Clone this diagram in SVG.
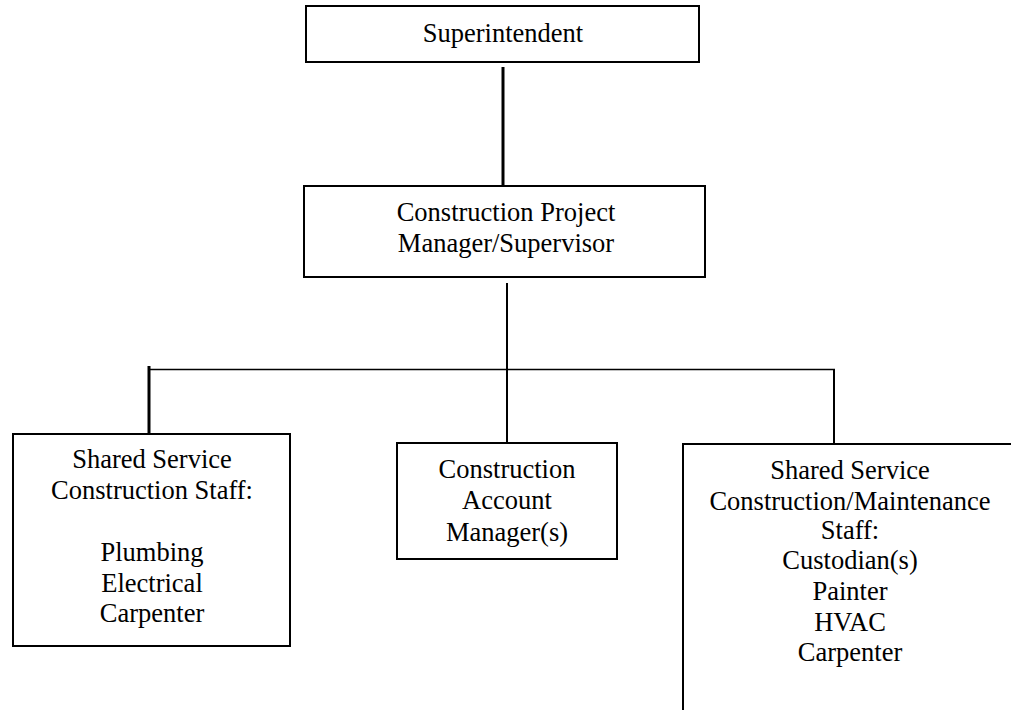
<svg xmlns="http://www.w3.org/2000/svg" width="1011" height="710" viewBox="0 0 1011 710">
<style>
.box{fill:#fff;stroke:#000;stroke-width:2}
.t{font-family:"Liberation Serif","Times New Roman",serif;font-size:26.5px;fill:#000;text-anchor:middle}
.c{stroke:#000;fill:none}
</style>
<rect width="1011" height="710" fill="#fff"/>
<g id="connectors">
<line class="c" x1="503" y1="67" x2="503" y2="186" stroke-width="3"/>
<line class="c" x1="507" y1="283" x2="507" y2="443" stroke-width="2"/>
<line class="c" x1="148" y1="369.5" x2="835" y2="369.5" stroke-width="1.6"/>
<line class="c" x1="149" y1="366" x2="149" y2="434" stroke-width="3"/>
<line class="c" x1="834" y1="369" x2="834" y2="444" stroke-width="2"/>
</g>
<g id="superintendent">
<rect class="box" x="306" y="6" width="393" height="56"/>
<text class="t" x="503" y="42">Superintendent</text>
</g>
<g id="project-manager">
<rect class="box" x="304" y="186" width="401" height="91"/>
<text class="t" x="506" y="221">Construction Project</text>
<text class="t" x="506" y="252">Manager/Supervisor</text>
</g>
<g id="construction-staff">
<rect class="box" x="13" y="434" width="277" height="212"/>
<text class="t" x="152" y="468">Shared Service</text>
<text class="t" x="152" y="499">Construction Staff:</text>
<text class="t" x="152" y="561">Plumbing</text>
<text class="t" x="152" y="592">Electrical</text>
<text class="t" x="152" y="622">Carpenter</text>
</g>
<g id="account-manager">
<rect class="box" x="397" y="443" width="220" height="116"/>
<text class="t" x="507" y="478">Construction</text>
<text class="t" x="507" y="509">Account</text>
<text class="t" x="507" y="541">Manager(s)</text>
</g>
<g id="maintenance-staff">
<rect class="box" x="683" y="444" width="400" height="300"/>
<text class="t" x="850" y="479">Shared Service</text>
<text class="t" x="850" y="510">Construction/Maintenance</text>
<text class="t" x="850" y="539">Staff:</text>
<text class="t" x="850" y="569">Custodian(s)</text>
<text class="t" x="850" y="600">Painter</text>
<text class="t" x="850" y="631">HVAC</text>
<text class="t" x="850" y="661">Carpenter</text>
</g>
</svg>
